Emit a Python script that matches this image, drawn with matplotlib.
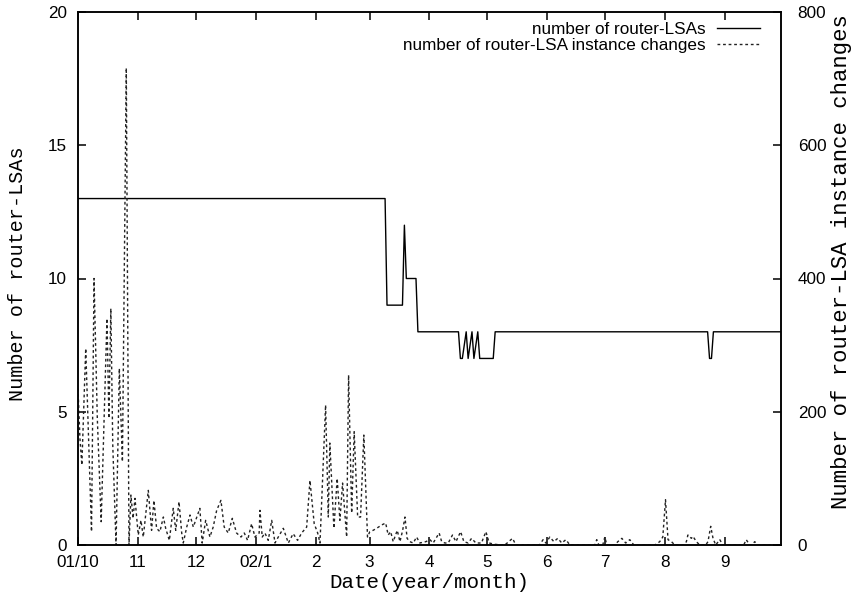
import matplotlib.pyplot as plt

# number of router-LSAs (left axis), day index from 2001/10/01
lsa_days = [0, 159, 160, 168, 169, 170, 175, 176, 197, 198, 199, 201, 202, 204,
            205, 207, 208, 215, 216, 326, 327, 328, 329, 364]
lsa_count = [13, 13, 9, 9, 12, 10, 10, 8, 8, 7, 7, 8, 7, 8,
             7, 8, 7, 7, 8, 8, 7, 7, 8, 8]

# number of router-LSA instance changes (right axis)
chg_days = [0, 1, 2, 4, 7, 8.3, 10, 12, 15, 16, 17, 18, 19.7, 21.4, 23, 25, 26.4, 27.4, 28.5,
            29.5, 31.2, 32.6, 33.8, 36.4, 38.1, 39.3, 40.7, 42.4, 44.2, 45.4, 47.3, 49.3,
            50.6, 52.3, 53.7, 54.5, 56.3, 58, 59.7, 63.1, 64.3, 66.1, 68.3, 70, 71.8, 74,
            75.7, 77.8, 79.9, 82.1, 84.4, 86.1, 87.8, 89.9, 91.6, 93.8,
            94.2, 95.4, 96.8, 98.5, 100.3, 102, 103.7, 106.3, 108.9, 111.4, 113.7, 115.8,
            118.4, 120.1, 122.3, 124.1, 125.3, 128.2, 129.6, 130.4, 132.5, 134.2, 135.6,
            137, 139.1, 140.1, 141.7, 143, 144.8, 146.3, 148, 149.9, 151.1, 152.8,
            154.6, 157.2, 159.3, 160.6, 161.9, 163.2, 165.3, 166.7, 168.1, 169.3, 170.4,
            171.8, 173.6, 175.3, 177, 180.1, 182.2, 183.9, 187, 188.3, 190, 191.7, 193.9,
            195.7, 198.1, 199.8, 202, 203.8, 206, 208.9, 211.2, 212.9, 215.8,
            221, 225, 226.7, 239, 240.8, 242.2, 244.3, 246.4, 248.4, 250.5, 252.6, 254.7,
            267.6, 268.6, 269.7, 271.7, 272.8, 273.8, 278, 279.5, 281.6, 283.6, 285.7,
            287.8, 298.7, 301.2, 302.8, 304.2, 305.5, 307.3, 309, 313.7, 315, 315.8,
            317.6, 318.4, 320.2, 321.9, 325, 326.2, 327.6, 328.8, 330.2, 332.3, 333.9,
            344.7, 346, 347.8, 348.9, 350.4, 351.9, 362]
chg_count = [235, 160, 120, 295, 20, 400, 190, 35, 340, 190, 355, 150, 0, 265, 125, 716, 0, 75, 40,
             70, 15, 37, 12, 82, 22, 67, 25, 20, 42, 25, 7, 55,
             22, 65, 18, 3, 27, 45, 27, 55, 3, 37, 12, 27, 52, 67,
             27, 18, 40, 18, 12, 18, 7, 32, 12, 18,
             52, 12, 18, 7, 37, 3, 12, 25, 3, 17, 7, 18,
             27, 97, 32, 18, 3, 210, 42, 153, 25, 100, 37,
             93, 12, 255, 48, 170, 42, 42, 165, 12, 20, 22,
             25, 30, 33, 15, 20, 5, 22, 5, 22, 42, 10,
             5, 3, 12, 3, 5, 8, 3, 18, 5, 3, 3, 15,
             5, 20, 5, 3, 10, 3, 3, 20, 3, 1,
             0, 10, 0, 0, 8, 3, 12, 5, 10, 3, 8, 0,
             0, 8, 0, 0, 12, 0, 0, 5, 10, 3, 8,
             0, 0, 5, 12, 68, 8, 5, 0, 0, 5, 15,
             10, 13, 5, 0, 0, 5, 28, 10, 0, 8, 0,
             0, 8, 0, 0, 5, 0, 0]

month_days = [0, 31, 61, 92, 123, 151, 182, 212, 243, 273, 304, 335]
month_labels = ['01/10', '11', '12', '02/1', '2', '3', '4', '5', '6', '7', '8', '9']

plt.rcParams['font.family'] = ['Liberation Sans', 'DejaVu Sans']
mono = 'Liberation Mono'

fig = plt.figure(figsize=(8.59, 6.01), dpi=100)
ax = fig.add_axes([78 / 859, 56 / 601, 703 / 859, 533 / 601])
ax2 = ax.twinx()

l1, = ax.plot(lsa_days, lsa_count, color='black', linewidth=1.0,
              label='number of router-LSAs')
l2, = ax2.plot(chg_days, chg_count, color='#222222', linewidth=1.0,
               linestyle=(0, (2, 2)), label='number of router-LSA instance changes')

ax.set_xlim(0, 364)
ax.set_ylim(0, 20)
ax2.set_ylim(0, 800)
ax.set_xticks(month_days)
ax.set_xticklabels(month_labels)
ax.set_yticks([0, 5, 10, 15, 20])
ax2.set_yticks([0, 200, 400, 600, 800])

ax.tick_params(axis='x', direction='in', top=True, length=6, width=1.1,
               labelsize=12.3, pad=7)
ax.tick_params(axis='y', direction='in', length=6, width=1.1, labelsize=12.3, pad=8)
ax2.tick_params(axis='y', direction='in', length=6, width=1.1, labelsize=12.3, pad=12)
for a in (ax, ax2):
    for s in a.spines.values():
        s.set_linewidth(1.1)

ax.set_xlabel('Date(year/month)', fontfamily=mono, fontsize=15, labelpad=2)
fig.text(18 / 859, 1 - 274 / 601, 'Number of router-LSAs', fontfamily=mono,
         fontsize=14.5, rotation=90, ha='center', va='center')
fig.text(841 / 859, 1 - 262 / 601, 'Number of router-LSA instance changes',
         fontfamily=mono, fontsize=16, rotation=90, ha='center', va='center')

ax2.legend(handles=[l1, l2], loc='upper right', bbox_to_anchor=(0.97, 0.982),
           frameon=False, markerfirst=False, fontsize=12.3, handlelength=2.5,
           handletextpad=0.7, labelspacing=0.06, borderpad=0, borderaxespad=0)

plt.savefig('out.png', dpi=100)
